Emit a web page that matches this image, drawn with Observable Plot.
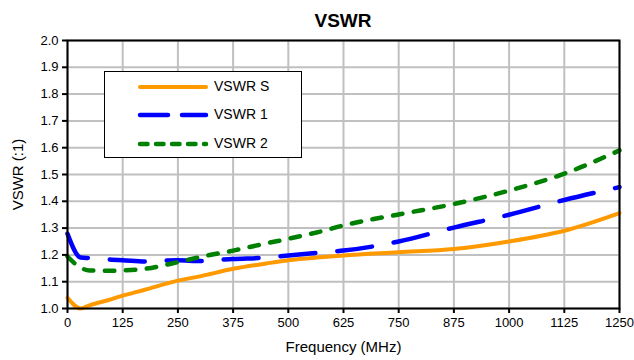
<!DOCTYPE html>
<html>
<head>
<meta charset="utf-8">
<script src="https://cdn.jsdelivr.net/npm/d3@7"></script>
<script src="https://cdn.jsdelivr.net/npm/@observablehq/plot@0.6"></script>
<style>
  html, body { margin: 0; padding: 0; background: #fff; }
  #wrap { position: relative; width: 634px; height: 360px; font-family: "Liberation Sans", Arial, sans-serif; }
  #title { position: absolute; left: 67px; width: 552px; top: 10px; text-align: center; font-weight: bold; font-size: 19px; color: #000; }
  #legend { position: absolute; left: 104px; top: 71px; width: 196px; height: 85px; border: 1px solid #000; background: #fff; }
  .row { position: absolute; left: 0; height: 20px; }
  .row svg { position: absolute; left: 32px; top: 4px; }
  .row span { position: absolute; left: 109px; top: 1px; font-size: 14px; color: #000; white-space: nowrap; }
  #chart svg { overflow: visible; }
</style>
</head>
<body>
<div id="wrap">
  <div id="chart"></div>
  <div id="title">VSWR</div>
  <div id="legend"></div>
</div>
<script>
// Data
const freq  = [0, 30, 50, 100, 125, 175, 250, 300, 375, 450, 500, 580, 625, 750, 875, 1000, 1125, 1250];
const vswrS = [1.040, 1.000, 1.012, 1.035, 1.048, 1.070, 1.104, 1.120, 1.148, 1.168, 1.180, 1.192, 1.198, 1.210, 1.222, 1.250, 1.290, 1.356];
const vswr1 = [1.279, 1.190, 1.188, 1.182, 1.180, 1.175, 1.180, 1.177, 1.185, 1.190, 1.198, 1.210, 1.216, 1.250, 1.302, 1.350, 1.405, 1.453];
const vswr2 = [1.194, 1.152, 1.142, 1.141, 1.142, 1.148, 1.173, 1.192, 1.216, 1.243, 1.260, 1.290, 1.310, 1.351, 1.390, 1.440, 1.503, 1.590];
const seriesNames = ["VSWR S", "VSWR 1", "VSWR 2"];
const xTicks = [0, 125, 250, 375, 500, 625, 750, 875, 1000, 1125, 1250];
const yTicks = [1.0, 1.1, 1.2, 1.3, 1.4, 1.5, 1.6, 1.7, 1.8, 1.9, 2.0];
const xLabel = "Frequency (MHz)";
const yLabel = "VSWR (:1)";

const styles = [
  {stroke: "#ff9900", strokeWidth: 4, dash: null},
  {stroke: "#0000ff", strokeWidth: 4.5, dash: "35,22"},
  {stroke: "#008000", strokeWidth: 4.5, dash: "9.5,11.5"}
];
const values = [vswrS, vswr1, vswr2];
const tables = values.map(v => freq.map((f, i) => ({f, v: v[i]})));

const font = "Liberation Sans, Arial, sans-serif";
const chart = Plot.plot({
  width: 634,
  height: 360,
  marginLeft: 67,
  marginRight: 15,
  marginTop: 40,
  marginBottom: 52,
  style: {fontFamily: font, fontSize: "13px", color: "#000", background: "#fff"},
  x: {domain: [0, 1250]},
  y: {domain: [1, 2]},
  marks: [
    Plot.gridX(xTicks, {stroke: "#c0c0c0", strokeOpacity: 1, strokeWidth: 2}),
    Plot.gridY(yTicks, {stroke: "#c0c0c0", strokeOpacity: 1, strokeWidth: 2}),
    ...tables.map((t, k) => Plot.line(t, {
      x: "f", y: "v", curve: "monotone-x",
      stroke: styles[k].stroke, strokeWidth: styles[k].strokeWidth,
      strokeDasharray: styles[k].dash, strokeLinecap: "round", strokeLinejoin: "round"
    })),
    Plot.frame({stroke: "#000", strokeWidth: 2}),
    Plot.axisX(xTicks, {tickSize: 5, tickPadding: 4, stroke: "#000", strokeWidth: 2, label: null, tickFormat: d => String(d), fontSize: 13}),
    Plot.axisY(yTicks, {tickSize: 5, tickPadding: 4, stroke: "#000", strokeWidth: 2, label: null, tickFormat: d3.format(".1f"), fontSize: 13}),
    Plot.text([xLabel], {frameAnchor: "bottom", dy: 39, text: d => d, fontSize: 15, textAnchor: "middle", lineAnchor: "middle"}),
    Plot.text([yLabel], {frameAnchor: "left", dx: -49, text: d => d, fontSize: 15, rotate: -90, textAnchor: "middle", lineAnchor: "middle"})
  ]
});
document.getElementById("chart").appendChild(chart);

// Legend
const legend = document.getElementById("legend");
const rowTops = [5, 33, 62];
seriesNames.forEach((name, k) => {
  const row = document.createElement("div");
  row.className = "row";
  row.style.top = rowTops[k] + "px";
  const s = styles[k];
  row.innerHTML = `<svg width="72" height="12"><line x1="3" y1="6" x2="69" y2="6" stroke="${s.stroke}" stroke-width="${s.strokeWidth}" stroke-linecap="round" ${s.dash ? `stroke-dasharray="${k === 1 ? '28,14' : '7.5,8.5'}"` : ""}/></svg><span>${name}</span>`;
  legend.appendChild(row);
});
</script>
</body>
</html>
